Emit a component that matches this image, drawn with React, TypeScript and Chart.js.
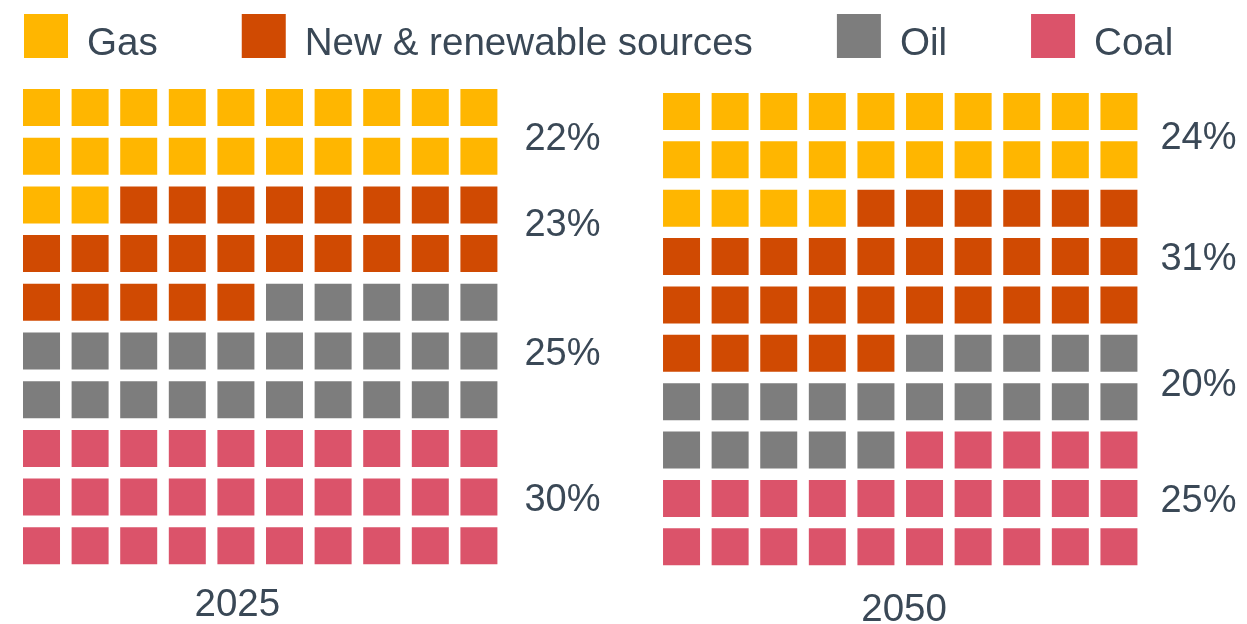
import React, { useEffect, useRef } from 'react';
import { Chart, registerables } from 'chart.js';

Chart.register(...registerables);

// ---- data ----
const categories = ['Gas', 'New & renewable sources', 'Oil', 'Coal'];
const years = ['2025', '2050'];
const shares2025 = [22, 23, 25, 30];
const shares2050 = [24, 31, 20, 25];
// row (in grid units) at which each percentage label is anchored
const labelRows2025 = [0.6, 2.35, 5, 8];
const labelRows2050 = [0.5, 3, 5.6, 8];
const gridColumns = 10;

const yearShares = [shares2025, shares2050];
const yearLabelRows = [labelRows2025, labelRows2050];

// ---- style ----
const COLORS = ['#FFB600', '#D04A02', '#7D7D7D', '#DB536A'];
const TEXT = '#3a4856';
const FONT = "'Liberation Sans', Arial, Helvetica, sans-serif";
const CELL = 37; // square side in px
const LABEL_GAP = [27, 23]; // px between grid edge and percentage label
// year caption anchors in grid units (col, row)
const yearCaptionAt = [
  { col: 4.03, row: 10.15 },
  { col: 4.58, row: 10.24 },
];

function waffleCells(shares: number[]) {
  const out = shares.map(() => [] as { x: number; y: number }[]);
  let idx = 0;
  shares.forEach((s, c) => {
    for (let k = 0; k < s; k++, idx++) {
      out[c].push({ x: idx % gridColumns, y: Math.floor(idx / gridColumns) });
    }
  });
  return out;
}

const textPlugin = {
  id: 'waffleText',
  afterDraw(chart: any) {
    const ctx = chart.ctx as CanvasRenderingContext2D;
    ctx.save();
    // legend
    ctx.font = `38.6px ${FONT}`;
    ctx.textAlign = 'left';
    ctx.textBaseline = 'alphabetic';
    let x = 24;
    categories.forEach((name, i) => {
      ctx.fillStyle = COLORS[i];
      ctx.fillRect(x, 14, 44, 44);
      ctx.fillStyle = TEXT;
      ctx.fillText(name, x + 63, 55);
      x += 63 + ctx.measureText(name).width + 84;
    });

    // percentage labels and year captions
    yearShares.forEach((shares, yi) => {
      const xs = chart.scales['x' + yi];
      const ys = chart.scales['y' + yi];
      const right = xs.getPixelForValue(gridColumns - 1) + CELL / 2;
      const fs = 38;
      ctx.font = `${fs}px ${FONT}`;
      ctx.textAlign = 'left';
      ctx.fillStyle = TEXT;
      shares.forEach((v, ci) => {
        const y = ys.getPixelForValue(yearLabelRows[yi][ci]);
        ctx.fillText(`${v}%`, right + LABEL_GAP[yi], y + 0.358 * fs);
      });
      const yfs = 38.5;
      ctx.font = `${yfs}px ${FONT}`;
      ctx.textAlign = 'center';
      const cx = xs.getPixelForValue(yearCaptionAt[yi].col);
      const cy = ys.getPixelForValue(yearCaptionAt[yi].row);
      ctx.fillText(years[yi], cx, cy + 0.358 * yfs);
    });
    ctx.restore();
  },
};

export default function App() {
  const ref = useRef<HTMLCanvasElement | null>(null);
  useEffect(() => {
    if (!ref.current) return;
    const datasets: any[] = [];
    yearShares.forEach((shares, yi) => {
      const cells = waffleCells(shares);
      categories.forEach((name, ci) => {
        datasets.push({
          label: `${name} ${years[yi]}`,
          data: cells[ci],
          xAxisID: 'x' + yi,
          yAxisID: 'y' + yi,
          pointStyle: 'rect',
          pointRadius: CELL / Math.SQRT2,
          pointHoverRadius: CELL / Math.SQRT2,
          backgroundColor: COLORS[ci],
          borderWidth: 0,
          showLine: false,
        });
      });
    });
    const hidden = { type: 'linear', display: false, bounds: 'data' };
    const chart = new Chart(ref.current, {
      type: 'scatter',
      data: { datasets },
      options: {
        animation: false,
        responsive: true,
        maintainAspectRatio: false,
        events: [],
        layout: { padding: 0, autoPadding: false },
        plugins: { legend: { display: false }, tooltip: { enabled: false } },
        scales: {
          x0: { ...hidden, position: 'bottom', min: -0.854, max: 24.804 },
          x1: { ...hidden, position: 'bottom', min: -14.023, max: 11.635 },
          y0: { ...hidden, position: 'left', reverse: true, min: -2.207, max: 10.606 },
          y1: { ...hidden, position: 'left', reverse: true, min: -2.305, max: 10.596 },
        },
      } as any,
      plugins: [textPlugin],
    });
    return () => chart.destroy();
  }, []);
  return (
    <div style={{ position: 'absolute', left: 0, top: 0, width: '1247px', height: '624px' }}>
      <canvas ref={ref} />
    </div>
  );
}
